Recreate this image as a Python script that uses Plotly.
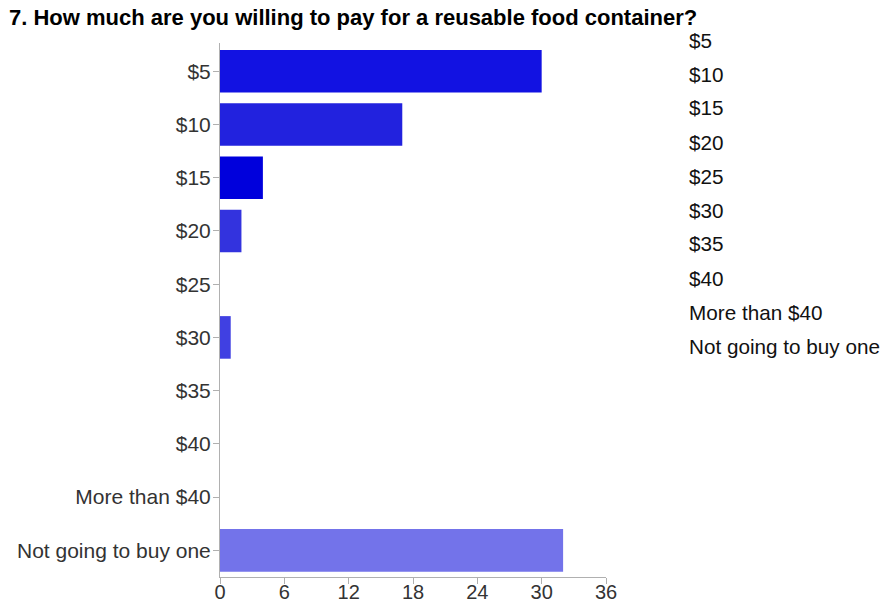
import plotly.graph_objects as go

# Survey question 7: price respondents would pay for a reusable food container
categories = ["$5", "$10", "$15", "$20", "$25", "$30", "$35", "$40",
              "More than $40", "Not going to buy one"]
counts = [30, 17, 4, 2, 0, 1, 0, 0, 0, 32]
bar_colors = ["#1212e2", "#2222de", "#0000dc", "#3333de", "#3a3ae0",
              "#4040e2", "#4a4ae2", "#5555e6", "#6060e8", "#7373ea"]
x_ticks = [0, 6, 12, 18, 24, 30, 36]
title_text = "7. How much are you willing to pay for a reusable food container?"

FONT = "Liberation Sans, Arial, sans-serif"
W, H = 883, 605
ML, MR, MT, MB = 220, 277, 43, 28
PLOT_H = H - MT - MB

fig = go.Figure()
fig.add_trace(go.Bar(
    y=categories,
    x=counts,
    orientation="h",
    marker=dict(color=bar_colors, line=dict(width=0)),
    showlegend=False,
    hoverinfo="x+y",
))

# Category list on the right-hand side
annotations = []
legend_top = 40
legend_step = 34.0
for i, name in enumerate(categories):
    annotations.append(dict(
        text=name, xref="paper", yref="paper",
        x=(687 - ML) / (W - ML - MR), xanchor="left",
        y=1 - (legend_top + i * legend_step - MT) / PLOT_H, yanchor="middle",
        showarrow=False, font=dict(family=FONT, size=20.7, color="#111111"),
    ))

fig.update_layout(
    width=W, height=H,
    margin=dict(l=ML, r=MR, t=MT, b=MB),
    paper_bgcolor="white", plot_bgcolor="white",
    bargap=0.2,
    title=dict(text="<b>" + title_text + "</b>", x=9 / W, xanchor="left",
               y=1 - 17 / H, yanchor="middle",
               font=dict(family=FONT, size=22, color="#000000")),
    font=dict(family=FONT, size=20, color="#333333"),
    annotations=annotations,
    xaxis=dict(
        range=[0, 36], tickvals=x_ticks, ticktext=[str(v) for v in x_ticks],
        showgrid=False, zeroline=False, showline=True, linecolor="#b0b0b0",
        ticks="outside", ticklen=6, tickcolor="#b0b0b0",
        tickfont=dict(family=FONT, size=20, color="#333333"),
        ticklabelstandoff=-9,
        automargin=False, fixedrange=True,
    ),
    yaxis=dict(
        type="category", categoryorder="array", categoryarray=categories,
        range=[9.5, -0.53],
        showgrid=False, zeroline=False, showline=True, linecolor="#b0b0b0",
        ticks="outside", ticklen=6, tickcolor="#b0b0b0",
        tickfont=dict(family=FONT, size=21, color="#333333"),
        ticklabelstandoff=-2,
        automargin=False, fixedrange=True,
    ),
)

fig.write_html("out.html")
